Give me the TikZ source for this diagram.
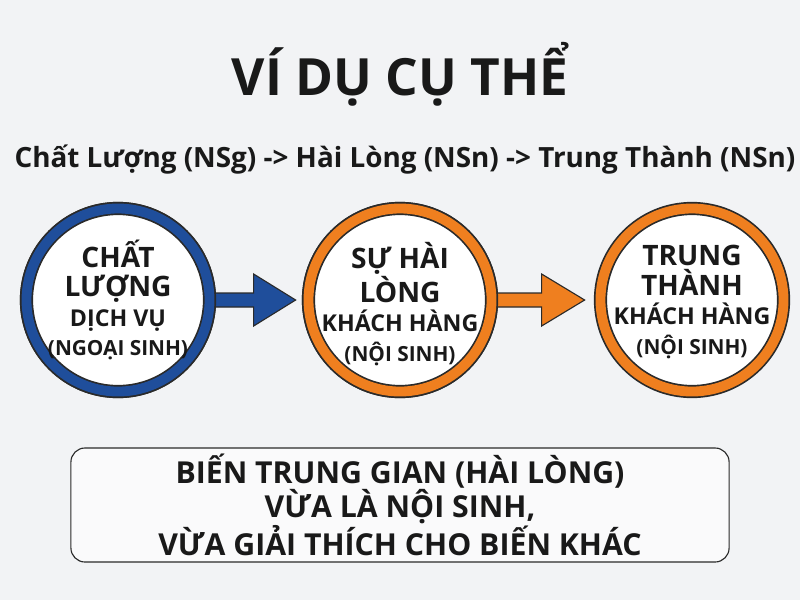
\documentclass[tikz,border=0pt]{standalone}
\usepackage{fontspec}
\setmainfont{Open Sans}
\usetikzlibrary{calc}
\definecolor{nen}{HTML}{F2F3F5}
\definecolor{xanh}{HTML}{1F4E9B}
\definecolor{cam}{HTML}{EF7F1F}
\definecolor{vien}{HTML}{2A2A2A}
\newcommand{\lon}{\fontsize{20}{21}\selectfont}
\newcommand{\nho}{\fontsize{16.5}{21}\selectfont}
\newcommand{\nhohon}{\fontsize{14.8}{21}\selectfont}
\begin{document}
\begin{tikzpicture}[x=0.025cm, y=-0.025cm,
                vong/.style={shape=circle, draw=vien, line width=1.2pt, double distance=7pt, minimum size=4.575cm, fill=white},
                chu/.style={align=center, font=\fontsize{20}{21}\selectfont\bfseries, text=black!90},
                muiten/.style={draw=vien, line width=0.8pt, line join=miter},
                hop/.style={draw=vien, line width=0.8pt, rounded corners=10pt, fill=white!60!nen, minimum width=16.45cm, minimum height=2.85cm},
            ]
            \fill[nen] (0,0) rectangle (800,600);
            \useasboundingbox (0,0) rectangle (800,600);

            \node[chu, font=\fontsize{36.5}{40}\selectfont\bfseries] (tieude) at (400,74) {VÍ DỤ CỤ THỂ};
            \node[chu, font=\fontsize{19.8}{24}\selectfont\bfseries] (chuoi) at (405,160) {Chất Lượng (NSg) -> Hài Lòng (NSn) -> Trung Thành (NSn)};

            \node[vong, double=xanh] (c1) at (118,300) {};
            \node[vong, double=cam] (c2) at (400,300) {};
            \node[vong, double=cam] (c3) at (692,300) {};

            \draw[muiten, fill=xanh] ($(c1.east)+(-3,7)$) -- ($(c2.west)+(-54,7)$) -- ($(c2.west)+(-54,26)$) -- ($(c2.west)+(-12,0)$) -- ($(c2.west)+(-54,-26)$) -- ($(c2.west)+(-54,-7)$) -- ($(c1.east)+(-3,-7)$);
            \draw[muiten, fill=cam] ($(c2.east)+(-3,7)$) -- ($(c3.west)+(-58,7)$) -- ($(c3.west)+(-58,26)$) -- ($(c3.west)+(-15,0)$) -- ($(c3.west)+(-58,-26)$) -- ($(c3.west)+(-58,-7)$) -- ($(c2.east)+(-3,-7)$);
            \node[vong, double=xanh] at (c1) {};
            \node[vong, double=cam] at (c2) {};

            \node[chu] (t1) at (c1) {\lon CHẤT\\\lon LƯỢNG\\\nho DỊCH VỤ\\\nhohon (NGOẠI SINH)};
            \node[chu] (t2) at ($(c2)+(0,4)$) {\lon SỰ HÀI\\\lon LÒNG\\\nho KHÁCH HÀNG\\\nhohon (NỘI SINH)};
            \node[chu] (t3) at ($(c3)+(0,2)$) {\lon TRUNG\\\lon THÀNH\\\nho KHÁCH HÀNG\\\nhohon (NỘI SINH)};

            \node[hop] (khung) at (400,505) {};
            \node[chu, font=\fontsize{21.5}{23}\selectfont\bfseries] (ketluan) at (khung) {BIẾN TRUNG GIAN (HÀI LÒNG)\\VỪA LÀ NỘI SINH,\\VỪA GIẢI THÍCH CHO BIẾN KHÁC};
        \end{tikzpicture}
\end{document}
